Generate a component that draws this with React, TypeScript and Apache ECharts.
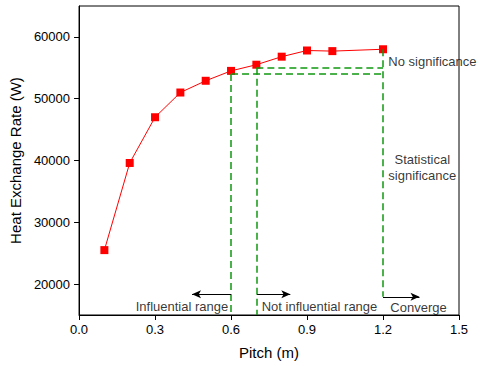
import React, { useEffect, useRef } from "react";
import * as echarts from "echarts";

const pitch = [0.1, 0.2, 0.3, 0.4, 0.5, 0.6, 0.7, 0.8, 0.9, 1.0, 1.2];
const heatRate = [25500, 39600, 47000, 51000, 52900, 54500, 55500, 56800, 57800, 57700, 58000];
const xTicks = [0, 0.3, 0.6, 0.9, 1.2, 1.5];
const yTicks = [20000, 30000, 40000, 50000, 60000];

// dashed guide segments [x1, y1, x2, y2]
const guideSegments = [
  [0.7, 55000, 1.2, 55000],
  [0.6, 54000, 1.2, 54000],
  [0.6, 54000, 0.6, 15000],
  [0.7, 55000, 0.7, 15000],
  [1.2, 58000, 1.2, 17950],
];
// arrows [x1, y1, x2, y2]
const arrowSegments = [
  [0.6, 18340, 0.446, 18340],
  [0.703, 18340, 0.834, 18340],
  [1.2, 17950, 1.344, 17950],
];
const noteTexts = ["No significance", "Statistical\nsignificance", "Influential range", "Not influential range", "Converge"];
const noteX = [1.221, 1.355, 0.589, 0.721, 1.229];
const noteY = [56030, 38820, 16450, 16450, 16290];
const notePos = ["right", "inside", "left", "right", "right"];

const FONT = "Liberation Sans";
const INK = "#000";

export default function App() {
  const ref = useRef<HTMLDivElement>(null);
  useEffect(() => {
    if (!ref.current) return;
    const chart = echarts.init(ref.current, null, { renderer: "svg" });
    chart.setOption({
      animation: false,
      backgroundColor: "#fff",
      grid: { left: 77, right: 21, top: 6, bottom: 51, show: true, borderColor: "#000", borderWidth: 1 },
      xAxis: {
        type: "value",
        min: 0,
        max: 1.5,
        interval: 0.3,
        name: "Pitch (m)",
        nameLocation: "middle",
        nameGap: 30,
        nameTextStyle: { fontFamily: FONT, fontSize: 15, color: INK },
        axisLine: { show: true, onZero: false, lineStyle: { color: "#000", width: 1 } },
        axisTick: { show: true, length: 5, lineStyle: { color: "#000" }, customValues: xTicks },
        axisLabel: {
          fontFamily: FONT,
          fontSize: 13,
          color: INK,
          margin: 8,
          customValues: xTicks,
          formatter: (v: number) => v.toFixed(1),
        },
        splitLine: { show: false },
      },
      yAxis: {
        type: "value",
        min: 15000,
        max: 65000,
        name: "Heat Exchange Rate (W)",
        nameLocation: "middle",
        nameGap: 50,
        nameTextStyle: { fontFamily: FONT, fontSize: 15, color: INK },
        axisLine: { show: true, onZero: false, lineStyle: { color: "#000", width: 1 } },
        axisTick: { show: true, length: 5, lineStyle: { color: "#000" }, customValues: yTicks },
        axisLabel: {
          fontFamily: FONT,
          fontSize: 13,
          color: INK,
          margin: 9,
          customValues: yTicks,
          formatter: (v: number) => String(Math.round(v)),
        },
        splitLine: { show: false },
      },
      series: [
        {
          type: "line",
          data: [],
          silent: true,
          markLine: {
            silent: true,
            animation: false,
            label: { show: false },
            lineStyle: { color: "#119911", width: 1.5, type: [7, 4] },
            data: guideSegments.map((s) => [
              { coord: [s[0], s[1]], symbol: "none" },
              { coord: [s[2], s[3]], symbol: "none" },
            ]),
          },
        },
        {
          type: "line",
          data: [],
          silent: true,
          markLine: {
            silent: true,
            animation: false,
            label: { show: false },
            symbolSize: [6, 9],
            lineStyle: { color: "#000", width: 1, type: "solid" },
            itemStyle: { color: "#000" },
            data: arrowSegments.map((s) => [
              { coord: [s[0], s[1]], symbol: "none" },
              { coord: [s[2], s[3]], symbol: "arrow" },
            ]),
          },
        },
        {
          type: "scatter",
          silent: true,
          symbolSize: 0,
          clip: false,
          data: noteTexts.map((t, i) => ({
            value: [noteX[i], noteY[i]],
            label: {
              show: true,
              formatter: t,
              position: notePos[i],
              distance: 0,
              fontFamily: FONT,
              fontSize: 13,
              lineHeight: 16,
              color: INK,
              align: notePos[i] === "inside" ? "center" : undefined,
            },
          })),
        },
        {
          type: "line",
          data: pitch.map((p, i) => [p, heatRate[i]]),
          symbol: "rect",
          symbolSize: 8,
          lineStyle: { color: "#ff0000", width: 1 },
          itemStyle: { color: "#ff0000" },
        },
      ],
    });
    return () => chart.dispose();
  }, []);
  return <div ref={ref} style={{ width: 480, height: 366, position: "absolute", left: 0, top: 0 }} />;
}
